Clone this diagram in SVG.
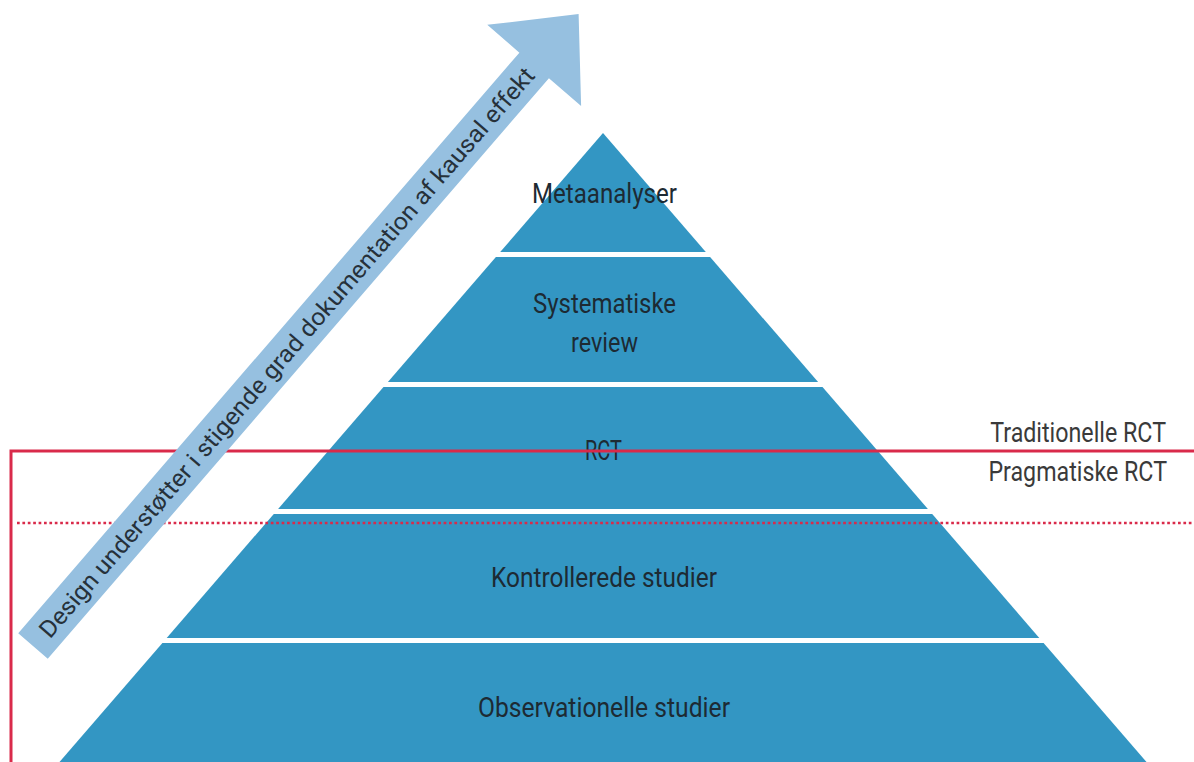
<svg xmlns="http://www.w3.org/2000/svg" width="1194" height="762" viewBox="0 0 1194 762">
  <style>
    .band { fill: #3396c3; }
    .lbl { font-family: Roboto, "Liberation Sans", sans-serif; font-size: 27px; fill: #1d2a33; }
    .side { font-family: Roboto, "Liberation Sans", sans-serif; font-size: 28px; fill: #3a3a3a; text-anchor: end; }
    .arrowtxt { font-family: Roboto, "Liberation Sans", sans-serif; font-size: 24px; fill: #26313a; }
    .red { stroke: #d92a4a; stroke-width: 3; fill: none; }
    .reddot { stroke: #d92a4a; stroke-width: 2.6; fill: none; stroke-dasharray: 2.7 2.7; }
  </style>

  <rect width="1194" height="762" fill="#ffffff"/>

  <!-- pyramid levels, all sharing the same side slope -->
  <g id="metaanalyser">
    <polygon class="band" points="603,133 705.8,252 500.2,252"/>
    <text class="lbl" x="532" y="203" textLength="145" lengthAdjust="spacingAndGlyphs">Metaanalyser</text>
  </g>
  <g id="systematiske-review">
    <polygon class="band" points="495.9,257 710.1,257 818.1,382 387.9,382"/>
    <text class="lbl" x="533" y="313" textLength="143" lengthAdjust="spacingAndGlyphs">Systematiske</text>
    <text class="lbl" x="571" y="352" textLength="67" lengthAdjust="spacingAndGlyphs">review</text>
  </g>
  <g id="rct">
    <polygon class="band" points="383.5,387 822.5,387 927.9,509 278.1,509"/>
    <text class="lbl" x="585" y="460" textLength="37" lengthAdjust="spacingAndGlyphs">RCT</text>
  </g>
  <g id="kontrollerede-studier">
    <polygon class="band" points="273.8,514 932.2,514 1039.3,638 166.7,638"/>
    <text class="lbl" x="491" y="587" textLength="226" lengthAdjust="spacingAndGlyphs">Kontrollerede studier</text>
  </g>
  <g id="observationelle-studier">
    <polygon class="band" points="162.4,643 1043.6,643 1146.5,762 59.5,762"/>
    <text class="lbl" x="478" y="717" textLength="252" lengthAdjust="spacingAndGlyphs">Observationelle studier</text>
  </g>

  <!-- RCT boundaries -->
  <g id="connectors">
    <polyline class="red" points="11,762 11,451 1194,451"/>
    <line class="reddot" x1="17" y1="523" x2="1194" y2="523"/>
  </g>

  <!-- upward arrow along the left side -->
  <g id="arrow" transform="translate(33,646) rotate(-49.2)">
    <polygon fill="#96c0e0" points="0,-19.5 767,-19.5 767,-62 835,0 767,62 767,19.5 0,19.5"/>
    <text class="arrowtxt" x="16" y="8.5" textLength="744" lengthAdjust="spacingAndGlyphs">Design understøtter i stigende grad dokumentation af kausal effekt</text>
  </g>

  <g id="traditionelle-rct">
    <text class="side" transform="translate(1166,442) scale(0.83,1)">Traditionelle RCT</text>
  </g>
  <g id="pragmatiske-rct">
    <text class="side" transform="translate(1167,481) scale(0.83,1)">Pragmatiske RCT</text>
  </g>
</svg>
